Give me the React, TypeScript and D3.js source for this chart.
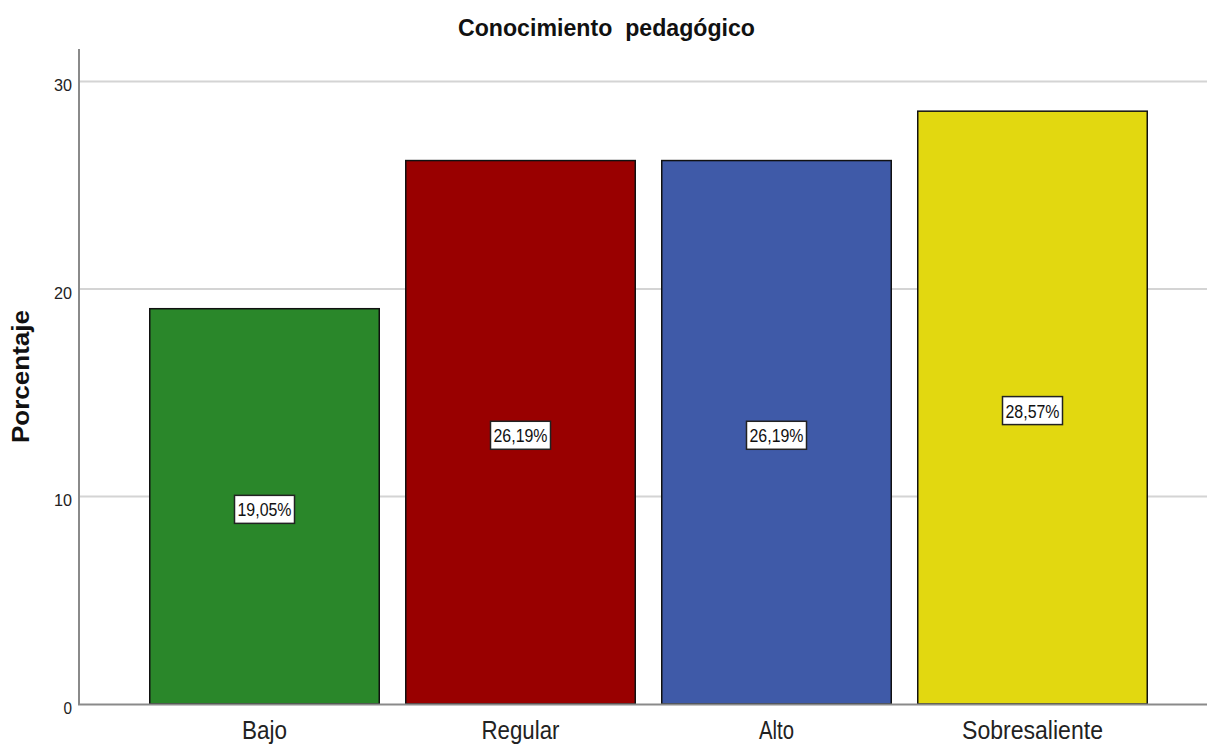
import React from "react";
import * as d3 from "d3";

const categories = ["Bajo", "Regular", "Alto", "Sobresaliente"];
const values = [19.05, 26.19, 26.19, 28.57];
const valueLabels = ["19,05%", "26,19%", "26,19%", "28,57%"];
const barColors = ["#2a872a", "#990000", "#3f5aa8", "#e2d810"];
const yTicks = [0, 10, 20, 30];
const catLabelWidths = [45, 78, 35, 141];

const W = 1207;
const H = 744;
const FONT = "'Liberation Sans', Arial, sans-serif";

export default function App() {
  const y = d3.scaleLinear().domain([0, 30]).range([704, 81.5]);
  const pi = 25 / 256;
  const x = d3
    .scaleBand<string>()
    .domain(categories)
    .range([136.5, 1160.5])
    .paddingInner(pi)
    .paddingOuter(pi / 2);

  return (
    <div style={{ position: "fixed", left: 0, top: 0 }}>
      <svg width={W} height={H} style={{ display: "block", background: "#fff" }}>
        {yTicks
          .filter((t) => t > 0)
          .map((t) => (
            <line
              key={"g" + t}
              x1={80}
              x2={W}
              y1={y(t)}
              y2={y(t)}
              stroke="#d4d4d4"
              strokeWidth={2}
            />
          ))}
        {categories.map((c, i) => (
          <rect
            key={c}
            x={(x(c) as number) + 0.75}
            y={y(values[i])}
            width={x.bandwidth() - 1.5}
            height={y(0) - y(values[i])}
            fill={barColors[i]}
            stroke="#111"
            strokeWidth={1.5}
          />
        ))}
        {categories.map((c, i) => {
          const cx = (x(c) as number) + x.bandwidth() / 2;
          const cy = (y(values[i]) + y(0)) / 2 + 3;
          return (
            <g key={"l" + c}>
              <rect
                x={cx - 30}
                y={cy - 14}
                width={60}
                height={28}
                fill="#fff"
                stroke="#222"
                strokeWidth={1.5}
              />
              <text
                x={cx}
                y={cy + 7}
                textAnchor="middle"
                fontFamily={FONT}
                fontSize={18}
                textLength={54}
                lengthAdjust="spacingAndGlyphs"
                fill="#111"
              >
                {valueLabels[i]}
              </text>
            </g>
          );
        })}
        <line x1={79} x2={79} y1={49} y2={705} stroke="#8a8a8a" strokeWidth={2} />
        <line x1={78} x2={W} y1={704.5} y2={704.5} stroke="#8a8a8a" strokeWidth={2} />
        {yTicks.map((t) => (
          <text
            key={"t" + t}
            x={72}
            y={y(t) + 9.5}
            textAnchor="end"
            fontFamily={FONT}
            fontSize={17}
            textLength={t === 0 ? 8.5 : 18}
            lengthAdjust="spacingAndGlyphs"
            fill="#222"
          >
            {t}
          </text>
        ))}
        {categories.map((c, i) => (
          <text
            key={"x" + c}
            x={(x(c) as number) + x.bandwidth() / 2}
            y={739}
            textAnchor="middle"
            fontFamily={FONT}
            fontSize={25}
            textLength={catLabelWidths[i]}
            lengthAdjust="spacingAndGlyphs"
            fill="#222"
          >
            {c}
          </text>
        ))}
        <text
          x={606.5}
          y={36}
          textAnchor="middle"
          fontFamily={FONT}
          fontWeight="bold"
          fontSize={24}
          textLength={297}
          lengthAdjust="spacingAndGlyphs"
          fill="#111"
          style={{ whiteSpace: "pre" }}
        >
          {"Conocimiento  pedagógico"}
        </text>
        <text
          transform="translate(29,376.5) rotate(-90)"
          textAnchor="middle"
          fontFamily={FONT}
          fontWeight="bold"
          fontSize={24}
          textLength={133}
          lengthAdjust="spacingAndGlyphs"
          fill="#111"
        >
          Porcentaje
        </text>
      </svg>
    </div>
  );
}
